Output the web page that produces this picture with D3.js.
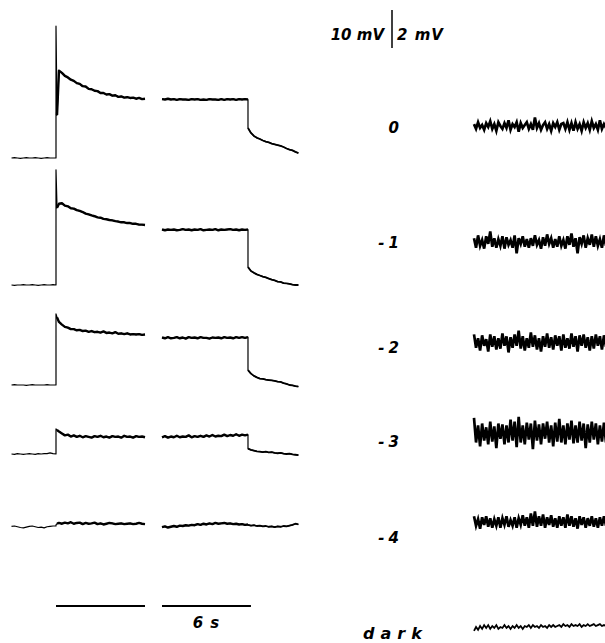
<!DOCTYPE html>
<html>
<head>
<meta charset="utf-8">
<script src="https://cdn.jsdelivr.net/npm/d3@7"></script>
<style>
  body { margin: 0; background: #fff; }
  svg { display: block; }
  .lbl { font-family: "DejaVu Sans", "Liberation Sans", sans-serif; font-weight: bold; font-style: italic; fill: #000; }
</style>
</head>
<body>
<div id="chart"></div>
<script>
// row labels (log light intensity) and scale texts
const rowLabels = ["0", "-1", "-2", "-3", "-4", "dark"];
const scaleLabels = ["10 mV", "2 mV", "6 s"];

// sample times (s): segment 1 from light on, segment 2 from light off
// the onset / offset instant is sampled twice so the step is vertical
const t1 = [...d3.range(-3, 0, 0.2), 0, 0, 0.07, ...d3.range(0.2, 6.001, 0.2)];
const t2 = [...d3.range(-5.8, 0.001, 0.2), 0, ...d3.range(0.2, 3.401, 0.2)];

// membrane potential (mV above dark baseline), light-on segment
const on0 = [0,0.1,0,-0.1,0,0.1,0,0,0.1,0,-0.1,0,0.1,0,0,
  0,34.7,11.3,
  23.0,22.4,21.6,21.2,20.6,20.3,19.7,19.5,18.9,18.8,18.2,18.1,17.7,17.6,17.1,17.1,16.7,16.8,16.4,16.5,16.1,16.2,15.9,16.0,15.8,15.9,15.6,15.8,15.5,15.6];
const on1 = [0,-0.1,0,0,0.1,0,0,0.1,0,-0.1,0,0.1,0,0,0.1,
  0,30.3,20.3,
  21.4,21.5,20.9,20.7,20.2,20.1,19.7,19.5,19.2,18.8,18.6,18.3,18.1,17.8,17.7,17.4,17.3,17.1,17.0,16.8,16.7,16.5,16.5,16.3,16.3,16.1,16.1,15.9,15.9,15.8];
const on2 = [0,0.1,0,0,0,-0.1,0,0.1,0,0,0,0,0.1,0,0,
  0,18.7,17.8,
  16.6,15.9,15.3,15.1,14.7,14.7,14.4,14.5,14.2,14.3,14.0,14.2,13.9,14.0,13.8,14.1,13.7,13.8,13.6,13.9,13.5,13.6,13.4,13.6,13.3,13.4,13.3,13.4,13.2,13.3];
const on3 = [0,-0.1,0.1,0,-0.1,0,0.1,0,-0.1,0.1,0,0.1,0.1,0.3,0.1,
  0,6.6,6.3,
  5.9,5.4,4.9,5.1,4.6,4.9,4.5,4.8,4.4,4.7,4.5,4.3,4.7,4.5,4.8,4.4,4.6,4.3,4.7,4.5,4.6,4.3,4.8,4.5,4.6,4.3,4.7,4.5,4.6,4.4];
const on4 = [-0.1,0,-0.2,-0.4,-0.5,-0.3,-0.1,0,-0.2,-0.4,-0.3,-0.5,-0.2,-0.1,0,
  0,0.3,0.6,
  0.8,0.6,0.9,0.7,1.0,0.6,0.8,0.9,0.5,0.8,0.6,0.7,0.9,0.5,0.7,0.4,0.6,0.8,0.7,0.5,0.6,0.7,0.5,0.6,0.7,0.5,0.6,0.8,0.6,0.5];

// light-off segment: plateau, value just after the step, recovery
const off0 = [15.5,15.4,15.6,15.4,15.5,15.3,15.5,15.4,15.4,15.3,15.5,15.4,15.5,15.3,15.4,15.3,15.5,15.4,15.4,15.3,15.5,15.3,15.5,15.4,15.5,15.3,15.5,15.4,15.5,15.4,
  7.9,
  6.6,5.8,5.3,5.0,4.6,4.3,4.1,3.8,3.6,3.4,3.2,2.9,2.5,2.2,2.0,1.6,1.3];
const off1 = [14.6,14.4,14.6,14.5,14.6,14.4,14.5,14.7,14.5,14.6,14.4,14.6,14.5,14.7,14.4,14.5,14.6,14.5,14.7,14.4,14.6,14.5,14.6,14.7,14.5,14.6,14.4,14.6,14.5,14.6,
  4.7,
  3.7,3.2,2.8,2.5,2.2,2.0,1.7,1.4,1.2,0.9,0.8,0.5,0.4,0.3,0.1,0,0];
const off2 = [12.5,12.3,12.6,12.3,12.4,12.6,12.3,12.5,12.2,12.6,12.4,12.5,12.3,12.6,12.4,12.4,12.2,12.5,12.4,12.5,12.3,12.6,12.4,12.5,12.3,12.6,12.4,12.6,12.4,12.6,
  3.9,
  3.0,2.4,2.0,1.7,1.6,1.4,1.3,1.2,1.1,0.9,0.8,0.5,0.3,0,-0.1,-0.3,-0.4];
const off3 = [4.4,4.7,4.3,4.6,4.4,4.8,4.4,4.6,4.5,4.9,4.4,4.7,4.5,4.8,4.5,4.9,4.6,5.0,4.6,4.8,4.7,5.1,4.7,5.0,4.8,5.2,4.8,5.1,4.9,5.1,
  1.4,
  1.1,0.9,0.7,0.6,0.5,0.6,0.4,0.5,0.3,0.2,0.3,0.1,0,0.1,-0.1,-0.2,-0.3];
const off4 = [-0.3,-0.1,-0.4,-0.2,0,-0.2,0.1,0,0.2,0.1,0.3,0.2,0.5,0.3,0.6,0.4,0.7,0.5,0.8,0.6,0.7,0.8,0.6,0.7,0.5,0.6,0.4,0.5,0.3,0.4,
  0.3,
  0.1,0.2,0,0.1,-0.1,0,-0.2,-0.1,-0.3,-0.1,-0.2,0,-0.1,0.1,0.3,0.6,0.4];

// voltage noise at high gain (mV), one row per intensity
const noise0 = [0.1,-0.15,0.2,-0.1,0.05,-0.2,0.15,-0.05,0.25,-0.15,0.1,-0.25,0.2,0,-0.15,0.15,-0.1,0.3,-0.2,0.1,-0.05,0.2,-0.3,0.15,-0.1,0.05,0.2,-0.15,0.1,-0.2,0.45,-0.1,0.15,-0.2,0.05,0.2,-0.15,0.1,-0.25,0.15,-0.05,0.2,-0.2,0.1,0.15,-0.15,0.2,-0.2,0.15,-0.25,0.2,-0.15,0.1,-0.25,0.2,-0.1,0.15,-0.2,0.25,-0.1,0.1,-0.2,0.3,-0.15,0.1,-0.1];
const noise1 = [0.2,-0.3,0.35,-0.2,0.1,-0.35,0.3,-0.1,0.55,-0.25,0.2,-0.3,0.15,-0.2,0.3,-0.35,0.25,-0.15,0.1,-0.3,0.35,-0.6,0.2,-0.1,0.3,-0.25,0.15,-0.3,0.2,-0.2,0.35,-0.15,0.1,-0.35,0.25,-0.2,0.4,-0.1,0.2,-0.3,0.15,-0.25,0.3,-0.2,0.1,-0.35,0.3,-0.15,0.45,-0.25,0.2,-0.6,0.25,-0.1,0.35,-0.3,0.2,-0.15,0.4,-0.25,0.3,-0.2,0.15,-0.3,0.35,-0.2];
const noise2 = [0.4,-0.3,0.2,-0.45,0.35,-0.2,0.15,-0.5,0.4,-0.25,0.3,-0.4,0.2,-0.35,0.45,-0.2,0.3,-0.55,0.25,-0.3,0.4,-0.2,0.6,-0.35,0.3,-0.45,0.2,-0.3,0.5,-0.25,0.35,-0.4,0.2,-0.5,0.3,-0.25,0.45,-0.3,0.25,-0.4,0.35,-0.2,0.3,-0.45,0.4,-0.3,0.2,-0.35,0.45,-0.25,0.3,-0.5,0.35,-0.2,0.4,-0.3,0.25,-0.45,0.3,-0.35,0.4,-0.2,0.3,-0.4,0.35,-0.25];
const noise3 = [0.8,-0.5,0.4,-0.7,0.5,-0.4,0.3,-0.6,0.6,-0.45,0.35,-0.8,0.5,-0.3,0.45,-0.6,0.4,-0.5,0.7,-0.4,0.6,-0.75,0.85,-0.5,0.4,-0.6,0.55,-0.35,0.5,-0.85,0.65,-0.4,0.45,-0.6,0.5,-0.3,0.6,-0.5,0.4,-0.7,0.55,-0.45,0.75,-0.5,0.4,-0.6,0.5,-0.35,0.65,-0.55,0.4,-0.5,0.6,-0.4,0.5,-0.8,0.45,-0.5,0.6,-0.35,0.5,-0.6,0.4,-0.45,0.55,-0.5];
const noise4 = [0.3,-0.2,0.15,-0.35,0.25,-0.15,0.3,-0.25,0.2,-0.3,0.15,-0.2,0.25,-0.3,0.2,-0.15,0.3,-0.25,0.1,-0.2,0.25,-0.3,0.2,-0.15,0.35,-0.2,0.25,-0.3,0.45,-0.2,0.55,-0.25,0.3,-0.2,0.4,-0.3,0.25,-0.15,0.35,-0.25,0.2,-0.3,0.3,-0.2,0.25,-0.3,0.4,-0.2,0.3,-0.25,0.2,-0.35,0.3,-0.15,0.25,-0.3,0.2,-0.2,0.3,-0.25,0.2,-0.3,0.25,-0.2,0.3,-0.2];
const noiseDark = [-0.2,0,-0.15,0.05,-0.1,0.1,-0.05,0.1,-0.1,0.05,-0.05,0.1,-0.1,0,-0.05,0.1,-0.05,0.05,-0.1,0.05,-0.05,0.1,-0.05,0.05,-0.1,0.05,0,0.1,-0.05,0.1,0,0.05,-0.05,0.1,0,0.05,-0.05,0.1,0,0.1,0,0.05,0.1,0,0.15,0.05,0.1,0,0.15,0.05,0.1,0.05,0.15,0,0.1,0.05,0.15,0.05,0.1,0.15,0.05,0.1,0.15,0.05,0.1,0.05];

const onTraces = [on0, on1, on2, on3, on4];
const offTraces = [off0, off1, off2, off3, off4];
const noiseTraces = [noise0, noise1, noise2, noise3, noise4, noiseDark];

class Chart{
  constructor(opts){
    this.element = opts.element;
  }

  draw(){
    this.width = 605;
    this.height = 643;
    // pixel rows: baselines of the slow traces, mid lines of the noise records, label baselines
    this.leftBase = [158, 285, 385, 454, 526];
    this.rightMid = [126, 242, 342, 433, 522, 627];
    this.labelBase = [133, 248, 353, 447, 543, 639];

    this.element.innerHTML = '';
    this.svg = d3.select(this.element).append('svg')
      .attr('width', this.width)
      .attr('height', this.height);

    this.createScales();
    this.addTraces();
    this.addNoise();
    this.addScaleBars();
    this.addLabels();
  }

  createScales(){
    this.x1 = d3.scaleLinear().domain([-3, 6]).range([11.5, 145]);
    this.x2 = d3.scaleLinear().domain([-5.8, 3.4]).range([162, 298.4]);
    // 10 mV = 38 px on the slow traces, 2 mV = 38 px on the noise records
    this.yLeft = this.leftBase.map(b => d3.scaleLinear().domain([0, 10]).range([b, b - 38]));
    this.yRight = this.rightMid.map(m => d3.scaleLinear().domain([0, 2]).range([m, m - 38]));
    this.xNoise = d3.scaleLinear().domain([0, 65]).range([474, 606]);
  }

  addTraces(){
    const g = this.svg.append('g')
      .attr('fill', 'none')
      .attr('stroke', '#000')
      .attr('stroke-linejoin', 'round');

    const path = (pts, w) => {
      g.append('path')
        .attr('stroke-width', w)
        .attr('d', d3.line().x(d => d.x).y(d => d.y)(pts));
    };

    onTraces.forEach((vals, r) => {
      const pts = vals.map((v, i) => ({x: this.x1(t1[i]), y: this.yLeft[r](v)}));
      path(pts, 1.2);              // dark baseline and the onset spike
      path(pts.slice(17), 2.4);    // response under light
    });

    offTraces.forEach((vals, r) => {
      const pts = vals.map((v, i) => ({x: this.x2(t2[i]), y: this.yLeft[r](v)}));
      path(pts, 1.2);
      path(pts.slice(0, 30), 2.4); // plateau
      path(pts.slice(30), 1.8);    // recovery in the dark
    });
  }

  addNoise(){
    const g = this.svg.append('g')
      .attr('fill', 'none')
      .attr('stroke', '#000')
      .attr('stroke-linejoin', 'miter')
      .attr('stroke-width', 2.7);

    noiseTraces.forEach((vals, r) => {
      const line = d3.line()
        .x((d, i) => this.xNoise(i))
        .y(d => this.yRight[r](d));
      g.append('path')
        .attr('stroke-width', r === 5 ? 1.8 : null)
        .attr('d', line(vals));
    });
  }

  addScaleBars(){
    // time bars, 6 s each
    this.svg.append('line')
      .attr('x1', this.x1(0)).attr('x2', this.x1(6))
      .attr('y1', 606).attr('y2', 606)
      .attr('stroke', '#000').attr('stroke-width', 2);
    this.svg.append('line')
      .attr('x1', this.x2(-5.8)).attr('x2', this.x2(0.2))
      .attr('y1', 606).attr('y2', 606)
      .attr('stroke', '#000').attr('stroke-width', 2);

    // voltage bar: 10 mV (left traces) / 2 mV (noise)
    const yBar = d3.scaleLinear().domain([0, 10]).range([48, 10]);
    this.svg.append('line')
      .attr('x1', 392).attr('x2', 392)
      .attr('y1', yBar(0)).attr('y2', yBar(10))
      .attr('stroke', '#000').attr('stroke-width', 1.5);
  }

  addLabels(){
    const size = '15px';
    this.svg.append('text').attr('class', 'lbl')
      .attr('x', 384).attr('y', 40)
      .attr('text-anchor', 'end')
      .style('font-size', size)
      .text(scaleLabels[0]);
    this.svg.append('text').attr('class', 'lbl')
      .attr('x', 397).attr('y', 40)
      .style('font-size', size).style('letter-spacing', '1px')
      .text(scaleLabels[1]);
    this.svg.append('text').attr('class', 'lbl')
      .attr('x', this.x2(-2.8)).attr('y', 628)
      .attr('text-anchor', 'middle')
      .style('font-size', size).style('letter-spacing', '1px')
      .text(scaleLabels[2]);

    this.svg.append('g').selectAll('text')
      .data(rowLabels)
      .join('text')
      .attr('class', 'lbl')
      .attr('x', d => d === 'dark' ? 363 : 403)
      .attr('y', (d, i) => this.labelBase[i])
      .attr('text-anchor', d => d === 'dark' ? 'start' : 'end')
      .style('font-size', d => d === 'dark' ? '16px' : size)
      .style('letter-spacing', d => d === 'dark' ? '6px' : '4px')
      .text(d => d);
  }
}

const chart = new Chart({element: document.querySelector('#chart')});
chart.draw();
</script>
</body>
</html>
